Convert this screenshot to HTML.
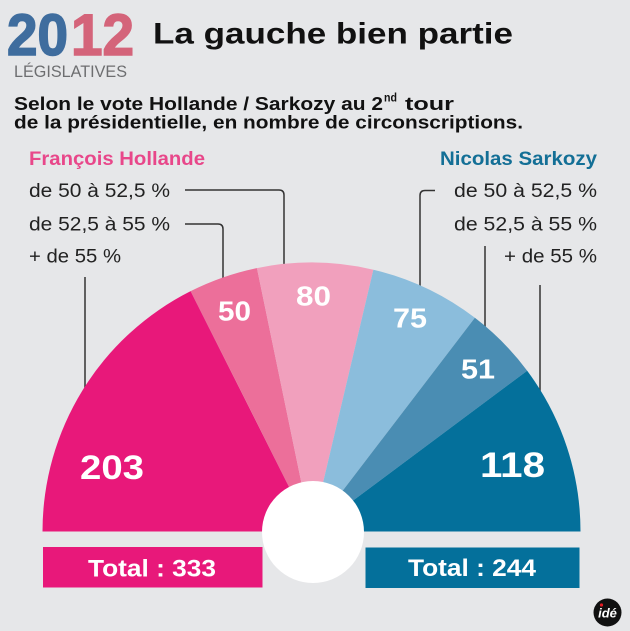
<!DOCTYPE html>
<html>
<head>
<meta charset="utf-8">
<style>
html,body{margin:0;padding:0;background:#e6e7e9;}
svg{display:block;}
text{font-family:"Liberation Sans",Arial,sans-serif;}
</style>
</head>
<body>
<svg width="630" height="631" viewBox="0 0 630 631" xmlns="http://www.w3.org/2000/svg">
<rect x="0" y="0" width="630" height="631" fill="#e6e7e9"/>

<!-- Header -->
<text x="7" y="55" font-size="58" font-weight="bold" fill="#3f6d9e" stroke="#3f6d9e" stroke-width="1.6" textLength="61" lengthAdjust="spacingAndGlyphs">20</text>
<text x="71" y="55" font-size="58" font-weight="bold" fill="#d4647a" stroke="#d4647a" stroke-width="1.6" textLength="63" lengthAdjust="spacingAndGlyphs">12</text>
<text x="14" y="77" font-size="17" fill="#6d6e70" textLength="113" lengthAdjust="spacingAndGlyphs">LÉGISLATIVES</text>
<text x="153" y="43.5" font-size="30" font-weight="bold" fill="#111" textLength="360" lengthAdjust="spacingAndGlyphs">La gauche bien partie</text>

<text x="14" y="110" font-size="18.5" font-weight="bold" fill="#111" textLength="369" lengthAdjust="spacingAndGlyphs">Selon le vote Hollande / Sarkozy au 2</text>
<text x="384" y="101.5" font-size="11.5" font-weight="bold" fill="#111" textLength="13" lengthAdjust="spacingAndGlyphs">nd</text>
<text x="405" y="110" font-size="18.5" font-weight="bold" fill="#111" textLength="49" lengthAdjust="spacingAndGlyphs">tour</text>
<text x="14" y="128.5" font-size="18.5" font-weight="bold" fill="#111" textLength="509" lengthAdjust="spacingAndGlyphs">de la présidentielle, en nombre de circonscriptions.</text>

<!-- Legends -->
<text x="29" y="165" font-size="19" font-weight="bold" fill="#e8478a" textLength="176" lengthAdjust="spacingAndGlyphs">François Hollande</text>
<text x="29" y="197" font-size="19" fill="#222" textLength="141" lengthAdjust="spacingAndGlyphs">de 50 à 52,5 %</text>
<text x="29" y="230.5" font-size="19" fill="#222" textLength="141" lengthAdjust="spacingAndGlyphs">de 52,5 à 55 %</text>
<text x="29" y="262.5" font-size="19" fill="#222" textLength="92" lengthAdjust="spacingAndGlyphs">+ de 55 %</text>

<text x="440" y="165" font-size="19" font-weight="bold" fill="#136f96" textLength="157" lengthAdjust="spacingAndGlyphs">Nicolas Sarkozy</text>
<text x="454" y="197" font-size="19" fill="#222" textLength="143" lengthAdjust="spacingAndGlyphs">de 50 à 52,5 %</text>
<text x="454" y="230.5" font-size="19" fill="#222" textLength="143" lengthAdjust="spacingAndGlyphs">de 52,5 à 55 %</text>
<text x="504" y="262.5" font-size="19" fill="#222" textLength="93" lengthAdjust="spacingAndGlyphs">+ de 55 %</text>

<!-- Connector lines -->
<g fill="none" stroke="#333" stroke-width="1.5">
<path d="M185,190 H279 Q284,190 284,195 V280"/>
<path d="M185,224 H218 Q223,224 223,229 V290"/>
<path d="M85,277 V400"/>
<path d="M435,190.5 H425 Q420,190.5 420,195.5 V300"/>
<path d="M485,246 V340"/>
<path d="M540,285 V400"/>
</g>

<!-- Wedges: center (311.5,531.5), R=269 -->
<path d="M311.5,531.5 L42.5,531.5 A269,269 0 0 1 190.64,291.18 Z" fill="#e8187a"/>
<path d="M311.5,531.5 L190.64,291.18 A269,269 0 0 1 256.95,268.10 Z" fill="#ec6f9a"/>
<path d="M311.5,531.5 L256.95,268.10 A269,269 0 0 1 373.37,269.71 Z" fill="#f1a0bd"/>
<path d="M311.5,531.5 L373.37,269.71 A269,269 0 0 1 474.89,317.81 Z" fill="#8bbddc"/>
<path d="M311.5,531.5 L474.89,317.81 A269,269 0 0 1 527.18,370.75 Z" fill="#4a8db3"/>
<path d="M311.5,531.5 L527.18,370.75 A269,269 0 0 1 580.5,531.5 Z" fill="#04709b"/>

<!-- Total boxes -->
<rect x="43" y="547" width="219.5" height="40.5" fill="#e8187a"/>
<rect x="365.5" y="547.5" width="214" height="40.5" fill="#04709b"/>

<!-- White center circle -->
<circle cx="313" cy="532" r="51" fill="#ffffff"/>

<!-- Wedge numbers -->
<g font-weight="bold" fill="#ffffff">
<text x="80" y="479" font-size="34" textLength="64" lengthAdjust="spacingAndGlyphs">203</text>
<text x="218" y="320.7" font-size="28" textLength="33" lengthAdjust="spacingAndGlyphs">50</text>
<text x="296" y="305.3" font-size="28" textLength="35" lengthAdjust="spacingAndGlyphs">80</text>
<text x="393" y="327.7" font-size="28" textLength="34" lengthAdjust="spacingAndGlyphs">75</text>
<text x="461" y="378.3" font-size="28" textLength="34" lengthAdjust="spacingAndGlyphs">51</text>
<text x="480" y="477" font-size="35" textLength="65" lengthAdjust="spacingAndGlyphs">118</text>
<text x="88" y="576.7" font-size="24" textLength="128" lengthAdjust="spacingAndGlyphs">Total : 333</text>
<text x="408" y="576" font-size="24" textLength="128" lengthAdjust="spacingAndGlyphs">Total : 244</text>
</g>

<!-- Logo -->
<circle cx="607.5" cy="612.5" r="14" fill="#111"/>
<text x="607.5" y="617.5" font-size="13" font-weight="bold" font-style="italic" fill="#fff" text-anchor="middle">idé</text>
<circle cx="601.5" cy="605" r="1.6" fill="#e31b23"/>
</svg>
</body>
</html>
